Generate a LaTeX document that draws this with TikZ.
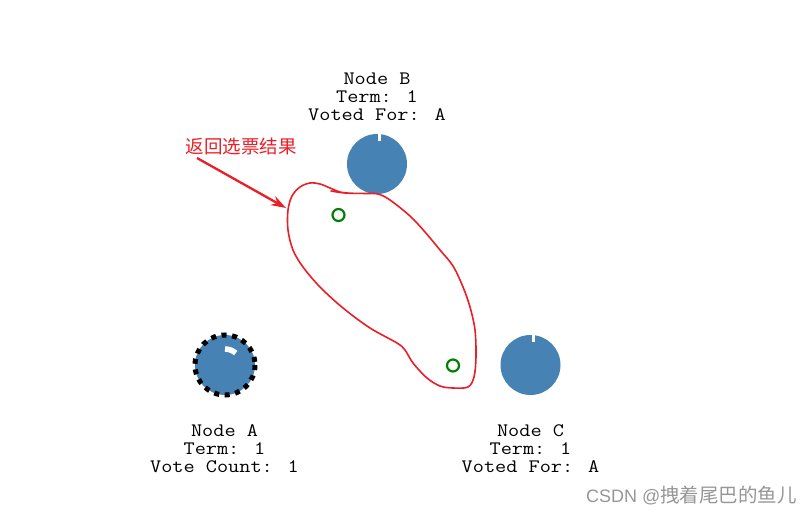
\documentclass[tikz,border=0pt]{standalone}
\usepackage{fontspec}
\setmainfont{Liberation Sans}
\newfontfamily\monof{Latin Modern Mono}[FakeStretch=1.14]
\newfontfamily\cjkf{Noto Sans CJK SC}
\newfontfamily\wmlat{Liberation Sans}
\usetikzlibrary{arrows.meta}
\definecolor{steel}{RGB}{70,130,180}
\definecolor{annot}{RGB}{235,30,38}
\definecolor{vgreen}{RGB}{0,128,0}
\definecolor{wm}{RGB}{150,150,150}
\tikzset{
  server/.style={circle, fill=steel, minimum size=60pt, inner sep=0pt},
  lbl/.style={align=center, font=\monof\fontsize{19}{18}\selectfont, inner sep=0pt},
  vote/.style={circle, draw=vgreen, line width=2.2pt, minimum size=12pt, inner sep=0pt},
  notch/.style={draw=white, line width=3pt},
}
\begin{document}
\begin{tikzpicture}[x=1pt,y=-1pt]
\useasboundingbox (0,0) rectangle (812,516);
% nodes
\node[server] (A) at (225,365) {};
\draw[black, line width=5pt, dash pattern=on 5pt off 5.6pt] (A.center) circle (30);
\draw[white, line width=5.5pt] ([shift={(-48:16)}]A.center) arc (-48:-90:16);
\node[server] (B) at (377,164) {};
\draw[notch] (379.5,133.5) -- (379.5,141);
\node[server] (C) at (530.5,365) {};
\draw[notch] (533,334.5) -- (533,342);
% labels
\node[lbl] (LB) at (377,97) {Node B\\Term: 1\\Voted For: A};
\node[lbl] (LA) at (224.5,449) {Node A\\Term: 1\\Vote Count: 1};
\node[lbl] (LC) at (530.5,449) {Node C\\Term: 1\\Voted For: A};
% votes in flight
\node[vote] (v1) at (338.5,215) {};
\node[vote] (v2) at (453,365.5) {};
% annotation
\node[text=annot, font=\cjkf\fontsize{18.5}{20}\selectfont, inner sep=0pt] (note) at (241,146) {返回选票结果};
\coordinate (as) at (197,158);
\coordinate (ae) at (286,208);
\draw[annot, line width=2.3pt, -{Stealth[length=15pt,width=10pt]}] (as) -- (ae);
\draw[annot, line width=1.6pt, line cap=round] plot[smooth, tension=0.55] coordinates {
 (331,191) (345,193) (365,193.5) (378,194) (390,200) (410,216) (425,232) (440,250)
 (453,266) (463,287) (470,307) (475,330) (476,357) (474,377) (468,387) (453,388)
 (440,386) (427,378) (413,363) (405,350) (397,343) (370,328) (343,308) (320,287)
 (303,267) (293,250) (288,230) (288,210) (292,196) (300,187) (310,183) (320,184)
 (330,188) (340,192) (348,193)};
% watermark
\node[text=wm, font=\cjkf\fontsize{19.5}{20}\selectfont, anchor=east, inner sep=0pt] (wmk) at (797,496) {{\wmlat\fontsize{18}{20}\selectfont CSDN @}拽着尾巴的鱼儿};
\end{tikzpicture}
\end{document}
